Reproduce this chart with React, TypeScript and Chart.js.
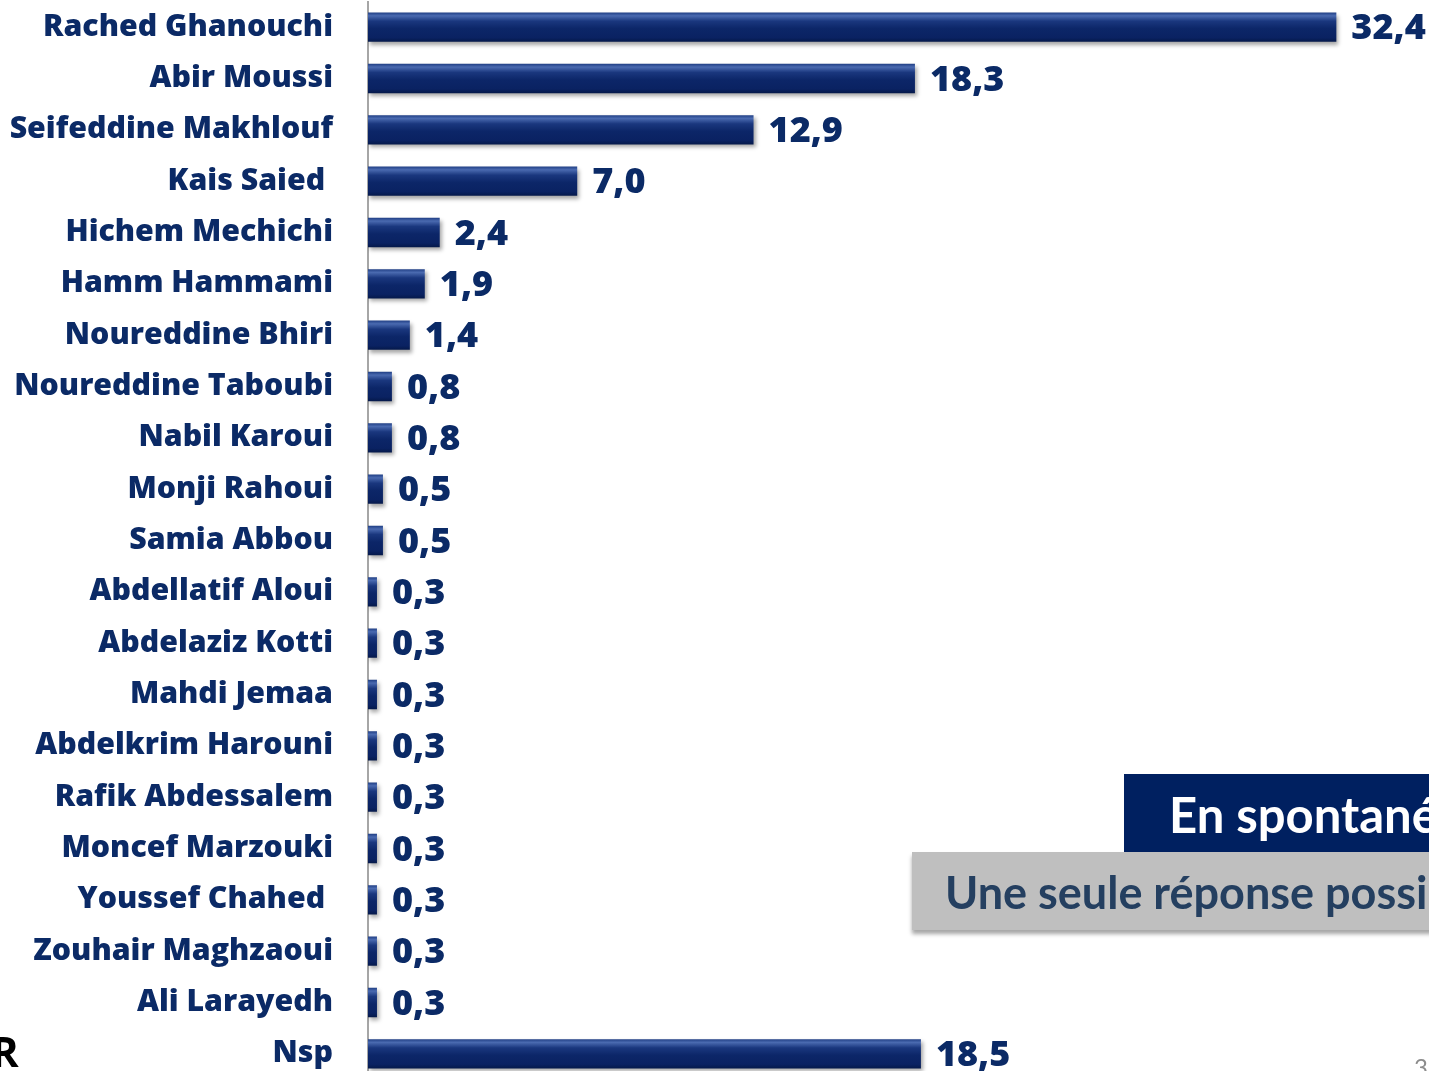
import React, { useEffect, useRef } from 'react';
import { Chart, registerables } from 'chart.js';

Chart.register(...registerables);

const categories: string[] = [
  'Rached Ghanouchi',
  'Abir Moussi',
  'Seifeddine Makhlouf',
  'Kais Saied ',
  'Hichem Mechichi',
  'Hamm Hammami',
  'Noureddine Bhiri',
  'Noureddine Taboubi',
  'Nabil Karoui',
  'Monji Rahoui',
  'Samia Abbou',
  'Abdellatif Aloui',
  'Abdelaziz Kotti',
  'Mahdi Jemaa',
  'Abdelkrim Harouni',
  'Rafik Abdessalem',
  'Moncef Marzouki',
  'Youssef Chahed ',
  'Zouhair Maghzaoui',
  'Ali Larayedh',
  'Nsp',
];

const values: number[] = [
  32.4, 18.3, 12.9, 7.0, 2.4, 1.9, 1.4, 0.8, 0.8, 0.5, 0.5,
  0.3, 0.3, 0.3, 0.3, 0.3, 0.3, 0.3, 0.3, 0.3, 18.5,
];

const xMax = 35.5;

const NAVY_TEXT = '#0b2a66';
const FONT = '"Open Sans", Lato, sans-serif';
const BOX_FONT = 'Lato, "Open Sans", sans-serif';

const fmt = (v: number) => v.toFixed(1).replace('.', ',');

export default function App() {
  const canvasRef = useRef<HTMLCanvasElement | null>(null);

  useEffect(() => {
    const canvas = canvasRef.current;
    if (!canvas) return;

    const shadowPlugin = {
      id: 'barShadow',
      beforeDatasetsDraw(chart: any) {
        const ctx = chart.ctx;
        ctx.save();
        ctx.shadowColor = 'rgba(0,0,0,0.35)';
        ctx.shadowOffsetX = 2;
        ctx.shadowOffsetY = 3;
        ctx.shadowBlur = 4;
      },
      afterDatasetsDraw(chart: any) {
        chart.ctx.restore();
      },
    };

    const labelPlugin = {
      id: 'valueLabels',
      afterDatasetsDraw(chart: any) {
        const ctx = chart.ctx;
        const meta = chart.getDatasetMeta(0);
        ctx.save();
        ctx.fillStyle = NAVY_TEXT;
        ctx.font = `800 36px ${FONT}`;
        ctx.textAlign = 'left';
        ctx.textBaseline = 'middle';
        meta.data.forEach((bar: any, i: number) => {
          ctx.fillText(fmt(values[i]), bar.x + 15, bar.y + 2);
        });
        ctx.restore();
      },
    };

    const chart = new Chart(canvas, {
      type: 'bar',
      data: {
        labels: categories,
        datasets: [
          {
            data: values,
            backgroundColor: (c: any) => {
              const ch = c.chart;
              const ys = ch.scales && ch.scales.y;
              if (!ys || c.dataIndex === undefined) return '#0a2464';
              const y = ys.getPixelForValue(c.dataIndex);
              if (!Number.isFinite(y)) return '#0a2464';
              const h = 15;
              const g = ch.ctx.createLinearGradient(0, y - h, 0, y + h);
              g.addColorStop(0, '#1c3a80');
              g.addColorStop(0.12, '#4a6ab0');
              g.addColorStop(0.3, '#1a377e');
              g.addColorStop(0.55, '#0c2668');
              g.addColorStop(0.85, '#0a2262');
              g.addColorStop(1, '#041848');
              return g;
            },
            borderWidth: 0,
            categoryPercentage: 1,
            barPercentage: 0.57,
          },
        ],
      },
      options: {
        indexAxis: 'y',
        responsive: false,
        maintainAspectRatio: false,
        animation: false,
        layout: { padding: { top: 1.5, bottom: 0.5, left: 0, right: 0 } },
        plugins: {
          legend: { display: false },
          tooltip: { enabled: false },
          title: { display: false },
        },
        scales: {
          x: {
            display: false,
            min: 0,
            max: xMax,
          },
          y: {
            grid: { display: false, drawTicks: false },
            border: { display: true, color: '#a6a6a6', width: 2 },
            ticks: {
              color: NAVY_TEXT,
              padding: 35,
              font: { family: FONT, size: 30.3, weight: '800' },
              autoSkip: false,
            },
            afterFit: (scale: any) => {
              scale.width = 368;
              scale.paddingTop = 0;
              scale.paddingBottom = 0;
            },
          },
        },
      },
      plugins: [shadowPlugin, labelPlugin],
    } as any);

    return () => chart.destroy();
  }, []);

  return (
    <div
      style={{
        position: 'absolute',
        top: 0,
        left: 0,
        width: 1429,
        height: 1071,
        overflow: 'hidden',
        background: '#ffffff',
        fontFamily: BOX_FONT,
      }}
    >
      <canvas
        ref={canvasRef}
        width={1429}
        height={1080}
        style={{ position: 'absolute', top: 0, left: 0, display: 'block' }}
      />
      <div
        style={{
          position: 'absolute',
          left: 1124,
          top: 774,
          width: 420,
          height: 79,
          background: '#002060',
          color: '#ffffff',
          fontWeight: 'bold',
          fontSize: 49,
          lineHeight: '80px',
          paddingLeft: 45,
          boxSizing: 'border-box',
          whiteSpace: 'nowrap',
        }}
      >
        En spontané
      </div>
      <div
        style={{
          position: 'absolute',
          left: 912,
          top: 852,
          width: 640,
          height: 78,
          background: '#bfbfbf',
          color: '#243f60',
          fontWeight: 'bold',
          fontSize: 45,
          lineHeight: '80px',
          paddingLeft: 33,
          boxSizing: 'border-box',
          whiteSpace: 'nowrap',
          boxShadow: '0 4px 4px rgba(0,0,0,0.35)',
        }}
      >
        Une seule réponse possible
      </div>
      <div
        style={{
          position: 'absolute',
          left: -9,
          top: 1026,
          color: '#000000',
          fontFamily: FONT,
          fontWeight: 'bold',
          fontSize: 42,
          lineHeight: '50px',
        }}
      >
        R
      </div>
      <div
        style={{
          position: 'absolute',
          left: 1414,
          top: 1052,
          color: '#8c8c8c',
          fontSize: 24,
          lineHeight: '30px',
        }}
      >
        3
      </div>
    </div>
  );
}
